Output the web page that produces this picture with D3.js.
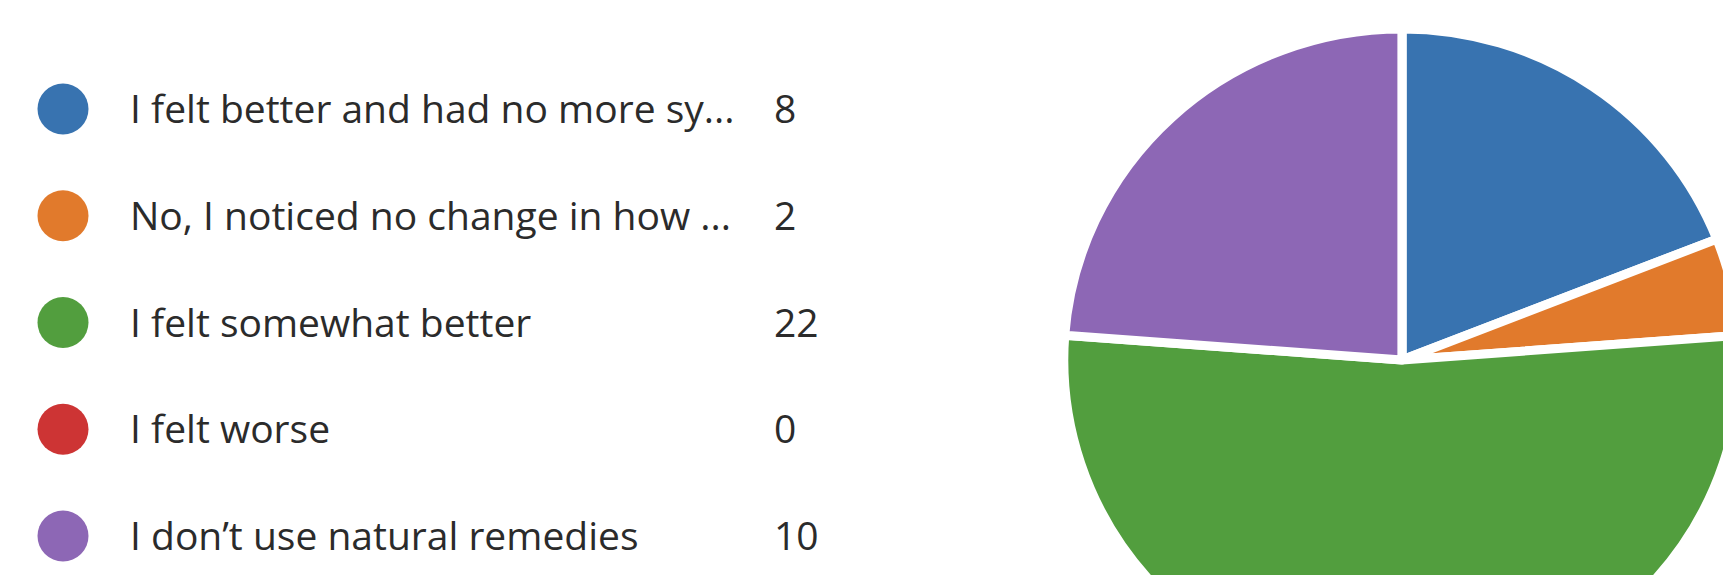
<!DOCTYPE html>
<html>
<head>
<meta charset="utf-8">
<script src="https://cdn.jsdelivr.net/npm/d3@7"></script>
<style>
  html, body { margin: 0; padding: 0; background: #ffffff; overflow: hidden; }
  svg { display: block; }
</style>
</head>
<body>
<svg id="chart" width="1723" height="575"></svg>
<script>
const categories = [
  "I felt better and had no more sy...",
  "No, I noticed no change in how ...",
  "I felt somewhat better",
  "I felt worse",
  "I don\u2019t use natural remedies"
];
const values = [8, 2, 22, 0, 10];
const colors = ["#3873b0", "#e17a2c", "#529e3e", "#cd3434", "#8d67b5"];

const W = 1723, H = 575;
const svg = d3.select("#chart");

const data = categories.map((c, i) => ({ label: c, value: values[i], color: colors[i] }));

// Legend
const rowY = d3.scalePoint().domain(d3.range(data.length)).range([109, 536]);
const legend = svg.append("g").attr("class", "legend");
const rows = legend.selectAll("g.row").data(data).join("g")
  .attr("class", "row")
  .attr("transform", (d, i) => `translate(0,${rowY(i)})`);
rows.append("circle")
  .attr("cx", 63).attr("cy", 0).attr("r", 25.5)
  .attr("fill", d => d.color);
rows.append("text")
  .attr("x", 130).attr("y", 14)
  .attr("font-family", "'Open Sans', 'Noto Sans', sans-serif")
  .attr("font-size", 39)
  .attr("fill", "#2b2b2b")
  .text(d => d.label);
rows.append("text")
  .attr("x", 774).attr("y", 14)
  .attr("font-family", "'Open Sans', 'Noto Sans', sans-serif")
  .attr("font-size", 39)
  .attr("fill", "#2b2b2b")
  .text(d => d.value);

// Pie
const cx = 1402, cy = 360, r = 331;
const pie = d3.pie().value(d => d.value).sort(null);
const arc = d3.arc().innerRadius(0).outerRadius(r);
svg.append("g")
  .attr("transform", `translate(${cx},${cy}) scale(1.022,1)`)
  .selectAll("path")
  .data(pie(data).filter(d => d.data.value > 0))
  .join("path")
  .attr("d", arc)
  .attr("fill", d => d.data.color)
  .attr("stroke", "#ffffff")
  .attr("stroke-width", 9)
  .attr("stroke-linejoin", "round");
</script>
</body>
</html>
